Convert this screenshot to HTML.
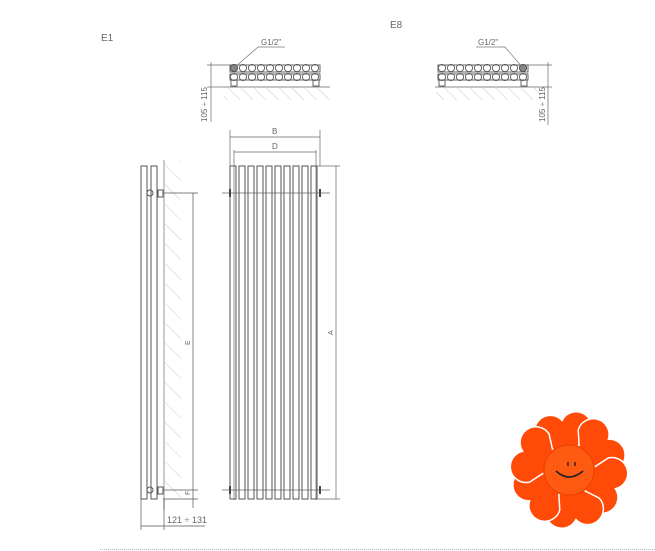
<!DOCTYPE html>
<html><head><style>
html,body{margin:0;padding:0;background:#fff;}
svg{display:block;}
text{font-family:"Liberation Sans",sans-serif;fill:#666;}
</style></head><body>
<svg width="655" height="551" viewBox="0 0 655 551" xmlns="http://www.w3.org/2000/svg">
<defs>
<pattern id="h" width="14" height="14" patternUnits="userSpaceOnUse" patternTransform="rotate(-45)">
<line x1="0" y1="0" x2="0" y2="14" stroke="#ccc" stroke-width="1"/>
</pattern>
<pattern id="h2" width="9" height="9" patternUnits="userSpaceOnUse" patternTransform="rotate(-45)">
<line x1="0" y1="0" x2="0" y2="9" stroke="#bbb" stroke-width="0.8"/>
</pattern>
<g id="row">
<circle cx="0" cy="0" r="3.6"/><circle cx="9" cy="0" r="3.6"/><circle cx="18" cy="0" r="3.6"/><circle cx="27" cy="0" r="3.6"/><circle cx="36" cy="0" r="3.6"/><circle cx="45" cy="0" r="3.6"/><circle cx="54" cy="0" r="3.6"/><circle cx="63" cy="0" r="3.6"/><circle cx="72" cy="0" r="3.6"/><circle cx="81" cy="0" r="3.6"/>
</g>
<g id="p" stroke="#fff" stroke-width="1.5" fill="#ff4a08">
<path d="M0 -14 L-26 -32 A15 15 0 0 1 0 -50 A15 15 0 0 1 26 -32 Z"/>
</g>
</defs>

<text x="101" y="41" font-size="10">E1</text>
<text x="390" y="28" font-size="10">E8</text>

<!-- E1 top view -->
<g stroke="#555" fill="none" stroke-width="0.9">
<rect x="230" y="65" width="90" height="7"/>
<rect x="230" y="74" width="90" height="6"/>
<use href="#row" x="234" y="68"/>
<use href="#row" x="234" y="77"/>
<rect x="231" y="80" width="6" height="6"/>
<rect x="313" y="80" width="6" height="6"/>
<circle cx="234" cy="68" r="3.5" fill="#888"/>
</g>
<line x1="223" y1="87" x2="330" y2="87" stroke="#888"/>
<rect x="224" y="88" width="106" height="12" fill="url(#h2)"/>
<line x1="234" y1="68" x2="258" y2="47" stroke="#777" stroke-width="0.7"/>
<line x1="258" y1="47" x2="285" y2="47" stroke="#777" stroke-width="0.7"/>
<text x="261" y="45" font-size="8">G1/2"</text>
<g stroke="#666" stroke-width="0.7">
<line x1="207" y1="65" x2="230" y2="65"/>
<line x1="207" y1="87" x2="223" y2="87"/>
<line x1="211" y1="62" x2="211" y2="122"/>
</g>
<text transform="translate(207,122) rotate(-90)" font-size="8">105 ÷ 115</text>

<!-- E8 top view -->
<g stroke="#555" fill="none" stroke-width="0.9">
<rect x="438" y="65" width="90" height="7"/>
<rect x="438" y="74" width="90" height="6"/>
<use href="#row" x="442" y="68"/>
<use href="#row" x="442" y="77"/>
<rect x="439" y="80" width="6" height="6"/>
<rect x="521" y="80" width="6" height="6"/>
<circle cx="523" cy="68" r="3.5" fill="#888"/>
</g>
<line x1="435" y1="87" x2="540" y2="87" stroke="#888"/>
<rect x="436" y="88" width="104" height="12" fill="url(#h2)"/>
<line x1="523" y1="68" x2="505" y2="47" stroke="#777" stroke-width="0.7"/>
<line x1="505" y1="47" x2="476" y2="47" stroke="#777" stroke-width="0.7"/>
<text x="478" y="45" font-size="8">G1/2"</text>
<g stroke="#666" stroke-width="0.7">
<line x1="528" y1="65" x2="552" y2="65"/>
<line x1="540" y1="87" x2="552" y2="87"/>
<line x1="548" y1="62" x2="548" y2="125"/>
</g>
<text transform="translate(545,122) rotate(-90)" font-size="8">105 ÷ 115</text>

<!-- side view -->
<rect x="165" y="160" width="16" height="342" fill="url(#h)"/>
<line x1="164" y1="160" x2="164" y2="510" stroke="#aaa" stroke-width="1.2"/>
<g stroke="#555" fill="none" stroke-width="1">
<rect x="141" y="166" width="6" height="333"/>
<rect x="151" y="166" width="6" height="333"/>
<circle cx="150" cy="193" r="3"/>
<path d="M158 190h5v7h-5z"/>
<circle cx="150" cy="490" r="3"/>
<path d="M158 487h5v7h-5z"/>
</g>
<g stroke="#555" stroke-width="0.7">
<line x1="163" y1="193" x2="198" y2="193"/>
<line x1="163" y1="490" x2="198" y2="490"/>
<line x1="163" y1="499" x2="198" y2="499"/>
<line x1="193" y1="193" x2="193" y2="508"/>
<line x1="141" y1="499" x2="141" y2="530"/>
<line x1="164" y1="499" x2="164" y2="530"/>
<line x1="141" y1="526" x2="205" y2="526"/>
</g>
<text transform="translate(190,345) rotate(-90)" font-size="7">E</text>
<text transform="translate(190,495) rotate(-90)" font-size="7">F</text>
<text x="167" y="523" font-size="9" font-family="Liberation Serif">121 ÷ 131</text>

<!-- front view -->
<g stroke="#555" fill="none" stroke-width="1">
<rect x="230" y="166" width="6" height="333"/>
<rect x="239" y="166" width="6" height="333"/>
<rect x="248" y="166" width="6" height="333"/>
<rect x="257" y="166" width="6" height="333"/>
<rect x="266" y="166" width="6" height="333"/>
<rect x="275" y="166" width="6" height="333"/>
<rect x="284" y="166" width="6" height="333"/>
<rect x="293" y="166" width="6" height="333"/>
<rect x="302" y="166" width="6" height="333"/>
<rect x="311" y="166" width="6" height="333"/>
</g>
<g stroke="#666" stroke-width="0.7">
<line x1="222" y1="193" x2="330" y2="193"/>
<line x1="222" y1="490" x2="330" y2="490"/>
<line x1="230" y1="130" x2="230" y2="166"/>
<line x1="320" y1="130" x2="320" y2="166"/>
<line x1="230" y1="137" x2="320" y2="137"/>
<line x1="234" y1="150" x2="234" y2="500"/>
<line x1="316" y1="150" x2="316" y2="500"/>
<line x1="234" y1="152" x2="316" y2="152"/>
<line x1="317" y1="166" x2="340" y2="166"/>
<line x1="317" y1="499" x2="340" y2="499"/>
<line x1="336" y1="166" x2="336" y2="499"/>
</g>
<g stroke="#444" stroke-width="2">
<line x1="230" y1="189" x2="230" y2="197"/><line x1="320" y1="189" x2="320" y2="197"/>
<line x1="230" y1="486" x2="230" y2="494"/><line x1="320" y1="486" x2="320" y2="494"/>
</g>
<text x="272" y="134" font-size="8">B</text>
<text x="272" y="149" font-size="8">D</text>
<text transform="translate(333,335) rotate(-90)" font-size="7">A</text>

<line x1="100" y1="549.5" x2="655" y2="549.5" stroke="#bbb" stroke-dasharray="1,1"/>

<!-- flower -->
<g transform="translate(569,470)">
<use href="#p" transform="rotate(-8)"/>
<use href="#p" transform="rotate(52)"/>
<use href="#p" transform="rotate(112)"/>
<use href="#p" transform="rotate(172)"/>
<use href="#p" transform="rotate(232)"/>
<use href="#p" transform="rotate(292)"/>
<circle r="26" fill="#ff4a08"/>
<circle r="25" fill="#ff5a12" stroke="#e84000" stroke-width="1"/>
<path d="M-13 1 Q0 13 14 1" stroke="#222" stroke-width="1.6" fill="none"/>
<line x1="-1" y1="-8" x2="-1" y2="-4" stroke="#222" stroke-width="1.4"/>
<line x1="6" y1="-8" x2="6" y2="-4" stroke="#222" stroke-width="1.4"/>
</g>
</svg>
</body></html>
